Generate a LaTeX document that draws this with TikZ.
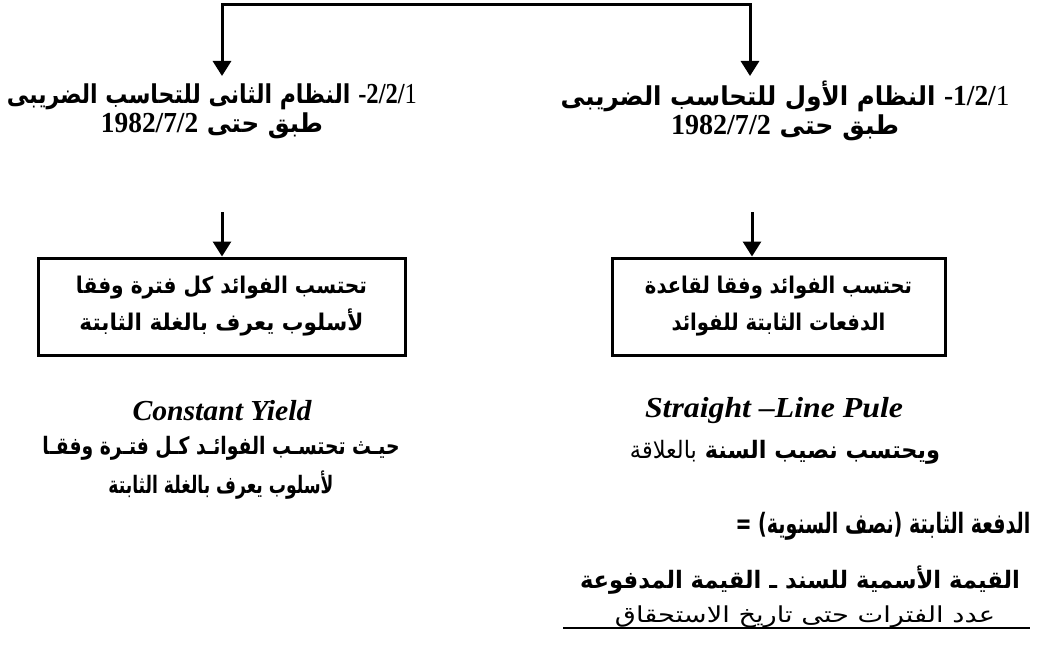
\documentclass[tikz,border=0pt]{standalone}
\usepackage{fontspec}
\usetikzlibrary{arrows.meta}
\TeXXeTstate=1
\newfontfamily\ar[Script=Arabic,BoldFont={DejaVu Sans Bold}]{DejaVu Sans}
\newfontfamily\tnr{Liberation Serif}
\newcommand{\nb}{\tnr\bfseries\fontsize{29}{29}\selectfont}
\newcommand{\nr}{\tnr\mdseries\fontsize{29}{29}\selectfont}
\newcommand{\fw}[2]{\resizebox{#1pt}{\height}{#2}}
\tikzset{
  lbl/.style={inner sep=0pt, align=center, font=\ar\bfseries\fontsize{24}{29}\selectfont},
  eng/.style={inner sep=0pt, font=\tnr\bfseries\itshape\fontsize{29}{32}\selectfont},
  boxnode/.style={draw, line width=3pt, inner sep=0pt, align=center, font=\ar\bfseries\fontsize{23}{40}\selectfont},
  arr/.style={line width=3pt, -{Triangle[width=18pt,length=15pt]}},
  arrb/.style={line width=3pt, {Triangle[width=18pt,length=15pt]}-{Triangle[width=18pt,length=15pt]}},
}
\begin{document}
\begin{tikzpicture}[x=1pt,y=-1pt]
\useasboundingbox (0,0) rectangle (1044,669);
% headings
\node[lbl, font=\ar\bfseries\fontsize{26}{29}\selectfont] (h2) at (785,111) {\fw{449}{\beginR\beginL{\nb-1/2/}{\nr1}\endL\ النظام الأول للتحاسب الضريبى\endR}\\
\fw{228}{\beginR طبق حتى \beginL{\nb 1982/7/2}\endL\endR}};
\node[lbl, font=\ar\bfseries\fontsize{26}{29}\selectfont] (h1) at (212,111) {\fw{410}{\beginR\beginL{\nb-2/2/}{\nr1}\endL\ النظام الثانى للتحاسب الضريبى\endR}\\
\fw{222}{\beginR طبق حتى \beginL{\nb 1982/7/2}\endL\endR}};
% top connector
\coordinate (tl) at (222,5);
\coordinate (tr) at (750,5);
\coordinate (hl) at (222,76);
\coordinate (hr) at (750,76);
\draw[arrb] (hl) -- (tl) -- (tr) -- (hr);
% boxes
\node[boxnode, minimum width=367pt, minimum height=97pt] (lbox) at (221.5,306.5)
 {\fw{291}{\beginR تحتسب الفوائد كل فترة وفقا\endR}\\[-3pt]\fw{284}{\beginR لأسلوب يعرف بالغلة الثابتة\endR}};
\node[boxnode, minimum width=333pt, minimum height=97pt] (rbox) at (778.5,306.5)
 {\fw{267}{\beginR تحتسب الفوائد وفقا لقاعدة\endR}\\[-3pt]\fw{214}{\beginR الدفعات الثابتة للفوائد\endR}};
\coordinate (la) at (222,212);
\coordinate (ra) at (752,212);
\draw[arr] (la) -- (la |- lbox.north);
\draw[arr] (ra) -- (ra |- rbox.north);
% english
\node[eng] (cy) at (222,411) {\fw{179}{Constant Yield}};
\node[eng] (sl) at (774,411) {\fw{258}{Straight –Line Pule}};
% left explanation
\node[lbl] (t1) at (221,448) {\fw{357}{\beginR حيـث تحتسـب الفوائـد كـل فتـرة وفقـا\endR}};
\node[lbl] (t2) at (221,485) {\fw{225}{\beginR لأسلوب يعرف بالغلة الثابتة\endR}};
% right explanation
\node[lbl] (t3) at (785,452) {\fw{310}{\beginR ويحتسب نصيب السنة {\mdseries بالعلاقة}\endR}};
\node[lbl, font=\ar\bfseries\fontsize{28}{30}\selectfont] (t4) at (883,526) {\fw{295}{\beginR الدفعة الثابتة (نصف السنوية) =\endR}};
\node[lbl] (num) at (800,580) {\fw{440}{\beginR القيمة الأسمية للسند ـ القيمة المدفوعة\endR}};
\node[lbl, font=\ar\fontsize{22}{27}\selectfont] (den) at (805,617) {\fw{380}{\beginR عدد الفترات حتى تاريخ الاستحقاق\endR}};
\coordinate (b1) at (563,628);
\coordinate (b2) at (1030,628);
\draw[line width=2pt] (b1) -- (b2);
\end{tikzpicture}
\end{document}
